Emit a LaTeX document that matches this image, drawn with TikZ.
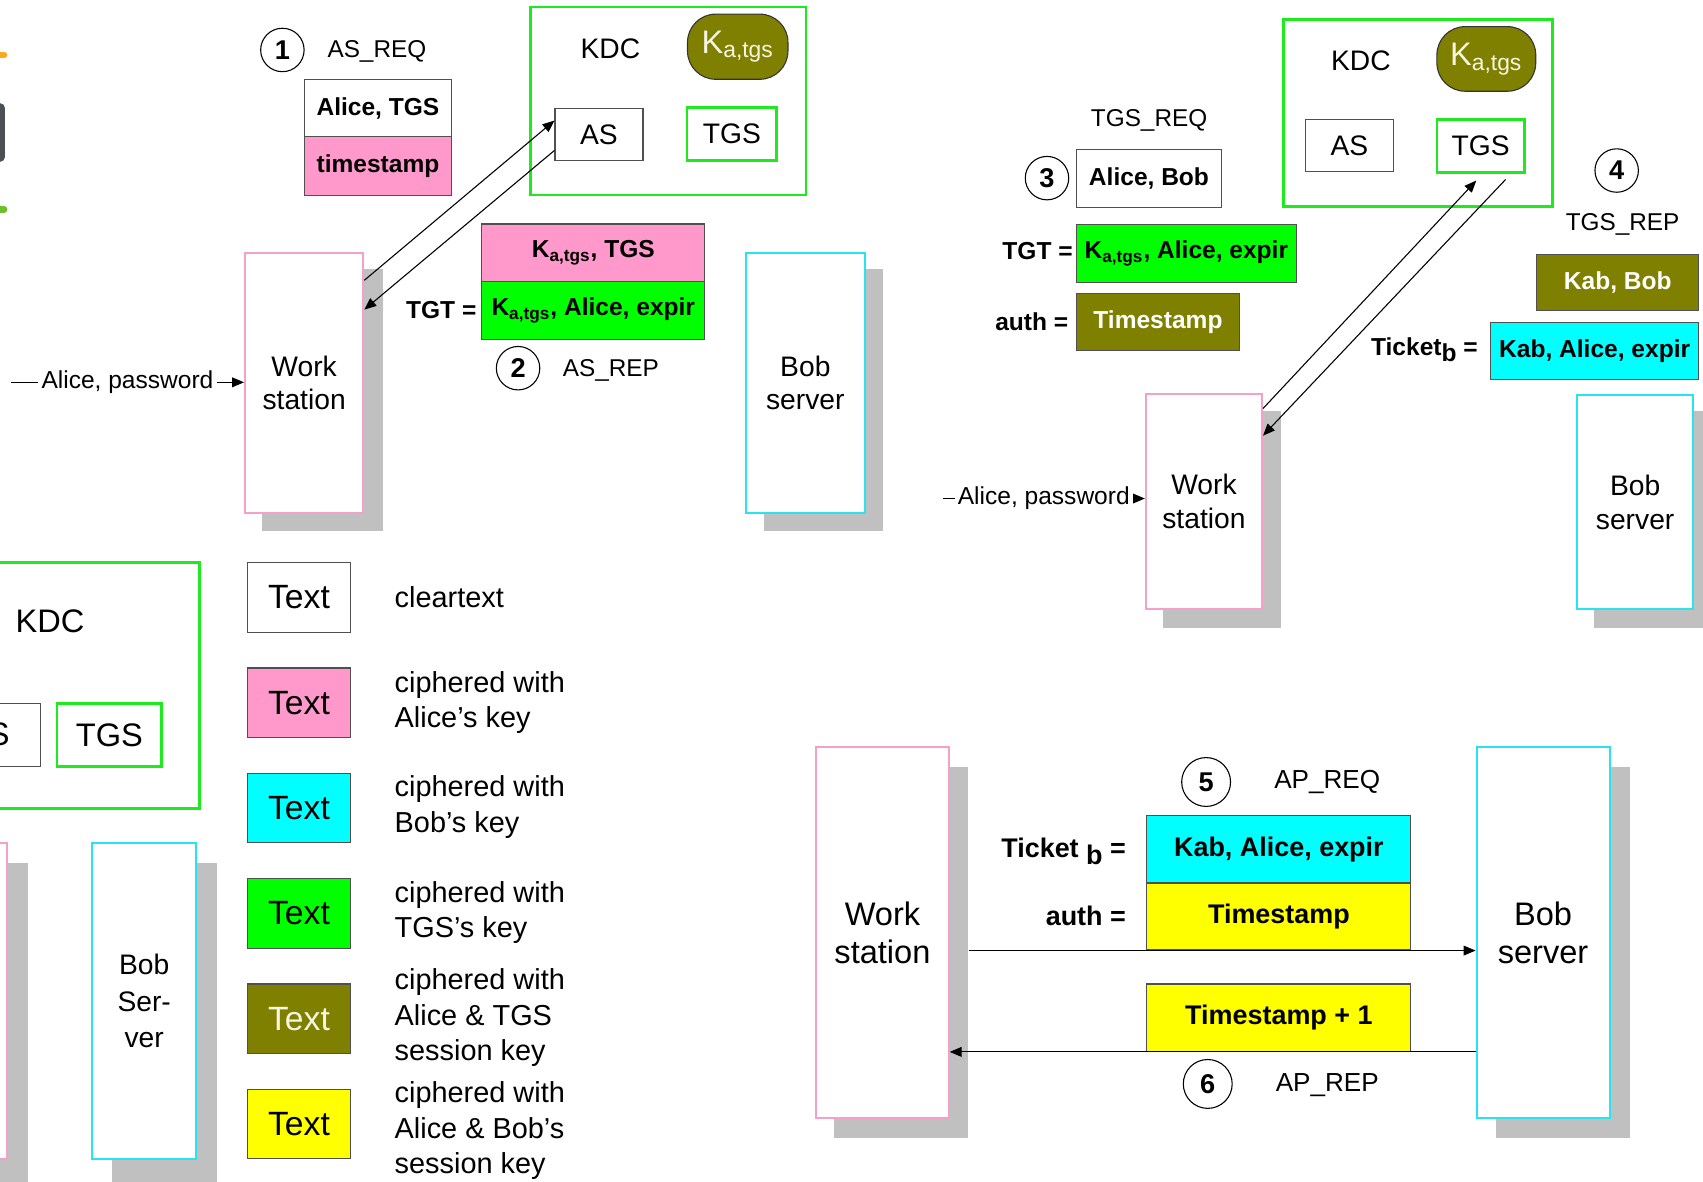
\documentclass[tikz,border=0pt]{standalone}
\usepackage{fontspec}
\setmainfont{Liberation Sans}
\usetikzlibrary{arrows.meta,calc}
\definecolor{pinkf}{RGB}{255,153,204}
\definecolor{pinkb}{RGB}{245,160,200}
\definecolor{greenf}{RGB}{0,255,0}
\definecolor{greenb}{RGB}{30,235,30}
\definecolor{cyanf}{RGB}{0,255,255}
\definecolor{cyanb}{RGB}{40,228,240}
\definecolor{olivef}{RGB}{128,128,0}
\definecolor{yellowf}{RGB}{255,255,0}
\definecolor{shadowc}{RGB}{192,192,192}
\definecolor{edgec}{RGB}{80,80,80}
\definecolor{keytxt}{RGB}{245,245,228}
\definecolor{orangec}{RGB}{250,170,30}
\definecolor{barc}{RGB}{75,80,85}
\definecolor{limec}{RGB}{110,190,40}
\newcommand{\fz}[2]{\fontsize{#1}{#2}\selectfont}
\begin{document}
\begin{tikzpicture}[x=0.5pt,y=-0.5pt,
  rectat/.style n args={4}{minimum width={((#3)-(#1))*0.5pt}, minimum height={((#4)-(#2))*0.5pt},
     at={({((#1)+(#3))/2},{((#2)+(#4))/2})}},
  shadowbox/.style={fill=shadowc, draw=none, inner sep=0pt},
  wsbox/.style={draw=pinkb, line width=0.9pt, fill=white, inner sep=0pt, align=center},
  bobbox/.style={draw=cyanb, line width=0.9pt, fill=white, inner sep=0pt, align=center},
  kdcbox/.style={draw=greenb, line width=1.25pt, inner sep=0pt},
  plainbox/.style={draw=edgec, line width=0.5pt, fill=white, inner sep=0pt},
  tgsbox/.style={draw=greenb, line width=1.25pt, fill=white, inner sep=0pt},
  keyblob/.style={draw=black!80, line width=0.5pt, fill=olivef, rounded corners=13pt, inner sep=0pt, text=keytxt, font=\fz{15}{17}},
  msg/.style={draw=edgec, line width=0.5pt, inner sep=0pt, font=\bfseries\fz{11.3}{13}},
  msgb/.style={draw=edgec, line width=0.5pt, inner sep=0pt, font=\bfseries\fz{12.4}{14}},
  lbl/.style={inner sep=0pt, font=\bfseries\fz{11.3}{13}},
  lblb/.style={inner sep=0pt, font=\bfseries\fz{12.4}{14}},
  steplbl/.style={inner sep=0pt, font=\fz{11.2}{13}},
  numc/.style={circle, draw=black, line width=0.5pt, minimum size=20pt, inner sep=0pt, font=\bfseries\fz{12.5}{14}},
  legbox/.style={draw=edgec, line width=0.5pt, inner sep=0pt, font=\fz{15.5}{17}},
  legtxt/.style={inner sep=0pt, anchor=west, align=left, font=\fz{13.3}{16.2}},
  pwlbl/.style={fill=white, inner sep=1.5pt, font=\fz{11.3}{13}},
  arr/.style={line width=0.5pt, -{Triangle[length=5.5pt,width=4.5pt]}}
]
\useasboundingbox (0,0) rectangle (1568,1088);
\clip (0,0) rectangle (1568,1088);

% cropped marks at the left edge
\draw[orangec, line width=3pt, line cap=round] (-5,50.6) -- (3.8,50.6);
\draw[barc, line width=4.5pt, line cap=round] (0,99.5) -- (0,144.5);
\draw[limec, line width=3pt, line cap=round] (-5,192.7) -- (3.8,192.7);

% ================= Panel top-left (AS exchange)
\node[numc] (c1) at (260,46) {1};
\node[steplbl] (asreq) at (347,47.5) {AS\_REQ};
\node[msg, fill=white, rectat={280}{73}{416}{126}] (alicetgs) {Alice, TGS};
\node[msg, fill=pinkf, rectat={280}{126}{416}{180}] (tstamp1) {timestamp};

\node[kdcbox, rectat={488.5}{6.5}{742}{179.5}] (kdc1) {};
\node[inner sep=0pt, font=\fz{13}{15}] (kdc1t) at (562,44.5) {KDC};
\node[keyblob, rectat={633}{13}{725.5}{73}] (key1) {K\textsubscript{a,tgs}};
\node[plainbox, font=\fz{13}{15}, rectat={511}{99.7}{592}{148}] (as1) {AS};
\node[tgsbox, font=\fz{13}{15}, rectat={632.6}{98.8}{715}{148}] (tgs1) {TGS};

\node[shadowbox, rectat={241.5}{248}{352.3}{489}] (ws1sh) {};
\node[wsbox, font=\fz{13}{15.6}, rectat={225.6}{233}{334.5}{472}] (ws1) {Work\\station};
\node[shadowbox, rectat={703}{248}{813}{489}] (bob1sh) {};
\node[bobbox, font=\fz{13}{15.6}, rectat={687}{233}{796}{472}] (bob1) {Bob\\server};

\node[msg, fill=pinkf, rectat={443.5}{206.2}{649}{259.4}] (ka1) {K\textsubscript{a,tgs}, TGS};
\node[msg, fill=greenf, rectat={443.5}{259.4}{649}{312.4}] (tgt1) {K\textsubscript{a,tgs}, Alice, expir};
\node[lbl, anchor=east] (tgt1l) at (439,285.5) {TGT =};
\node[numc] (c2) at (477,339) {2};
\node[steplbl] (asrep) at (562.5,341) {AS\_REP};

\coordinate (pw1) at (10,352);
\draw[arr] (pw1) -- node[pwlbl] {Alice, password} (pw1 -| ws1.west);
\draw[arr] ($(ws1.north east)+(0,26)$) -- ($(as1.north west)+(0,11.8)$);
\draw[arr] ($(as1.north west)+(0,39.3)$) -- ($(ws1.north east)+(0,53)$);

% ================= Panel top-right (TGS exchange)
\node[kdcbox, rectat={1182}{18}{1429.6}{190}] (kdc2) {};
\node[inner sep=0pt, font=\fz{13}{15}] (kdc2t) at (1253,55.5) {KDC};
\node[keyblob, rectat={1323}{24.5}{1414}{84}] (key2) {K\textsubscript{a,tgs}};
\node[plainbox, font=\fz{13}{15}, rectat={1202}{110}{1283}{158}] (as2) {AS};
\node[tgsbox, font=\fz{13}{15}, rectat={1323}{110}{1403.5}{159}] (tgs2) {TGS};

\node[steplbl] (tgsreq) at (1058,111) {TGS\_REQ};
\node[numc] (c3) at (964,164) {3};
\node[msg, fill=white, rectat={991.3}{138}{1124.5}{191}] (alicebob) {Alice, Bob};
\node[msg, fill=greenf, rectat={991.3}{207}{1193.3}{260}] (tgt2) {K\textsubscript{a,tgs}, Alice, expir};
\node[lbl, anchor=east] (tgt2l) at (988,231) {TGT =};
\node[msg, fill=olivef, text=white, rectat={991.3}{270}{1141}{323}] (auth2) {Timestamp};
\node[lbl, anchor=east] (auth2l) at (984,296) {auth =};

\node[numc] (c4) at (1488.5,157) {4};
\node[steplbl] (tgsrep) at (1494,206.5) {TGS\_REP};
\node[msg, fill=olivef, text=white, rectat={1415}{234}{1564}{286}] (kabbob) {Kab, Bob};
\node[msg, fill=cyanf, rectat={1372.5}{297}{1564}{349.3}] (tkb2) {Kab, Alice, expir};
\node[lbl, anchor=east] (tkb2l) at (1361,322) {Ticket\raisebox{-3pt}{b} =};

\node[shadowbox, rectat={1071}{378}{1179}{578}] (ws2sh) {};
\node[wsbox, font=\fz{13}{15.6}, rectat={1055}{363}{1162}{561}] (ws2) {Work\\station};
\node[shadowbox, rectat={1468}{378}{1576}{578}] (bob2sh) {};
\node[bobbox, font=\fz{13}{15.6}, rectat={1452}{363.7}{1559}{561}] (bob2) {Bob\\server};

\coordinate (pw2) at (868,459);
\draw[arr] (pw2) -- node[pwlbl] {Alice, password} (pw2 -| ws2.west);
\draw[arr] ($(ws2.north east)+(0,14)$) -- ($(tgs2.south)+(-4,6)$);
\draw[arr] ($(tgs2.south)+(23,5)$) -- ($(ws2.north east)+(0,39)$);

% ================= Panel bottom-left (overview, cropped)
\node[kdcbox, rectat={-20}{518}{183.5}{744.5}] (kdc3) {};
\node[inner sep=0pt, font=\fz{15}{17}] (kdc3t) at (46,572) {KDC};
\node[plainbox, font=\fz{15}{17}, rectat={-59.4}{647.5}{37}{705.5}] (as3) {AS};
\node[tgsbox, font=\fz{15}{17}, rectat={52.6}{647.5}{149}{706}] (tgs3) {TGS};
\node[shadowbox, rectat={-84}{795}{25.6}{1100}] (ws3sh) {};
\node[wsbox, rectat={-100}{776.5}{6.5}{1067}] (ws3) {};
\node[shadowbox, rectat={103}{795}{200}{1100}] (bob3sh) {};
\node[bobbox, font=\fz{13}{16.7}, rectat={85}{776.5}{180.5}{1067}] (bob3) {Bob\\Ser-\\ver};

% legend
\node[legbox, fill=white, rectat={227.7}{518}{322.8}{582}] (leg1) {Text};
\node[legbox, fill=pinkf, rectat={227.7}{615}{322.8}{679}] (leg2) {Text};
\node[legbox, fill=cyanf, rectat={227.7}{712}{322.8}{776}] (leg3) {Text};
\node[legbox, fill=greenf, rectat={227.7}{809}{322.8}{873}] (leg4) {Text};
\node[legbox, fill=olivef, text=keytxt, rectat={227.7}{906}{322.8}{970}] (leg5) {Text};
\node[legbox, fill=yellowf, rectat={227.7}{1003}{322.8}{1067}] (leg6) {Text};
\node[legtxt] (d1) at (363,550) {cleartext};
\node[legtxt] (d2) at (363,647) {ciphered with\\Alice’s key};
\node[legtxt] (d3) at (363,743) {ciphered with\\Bob’s key};
\node[legtxt] (d4) at (363,840) {ciphered with\\TGS’s key};
\node[legtxt] (d5) at (363,937) {ciphered with\\Alice \& TGS\\session key};
\node[legtxt] (d6) at (363,1041) {ciphered with\\Alice \& Bob’s\\session key};

% ================= Panel bottom-right (AP exchange)
\node[shadowbox, rectat={768}{706}{891.5}{1048}] (ws4sh) {};
\node[wsbox, font=\fz{15}{17.5}, rectat={751.5}{688}{873.5}{1029}] (ws4) {Work\\station};
\node[shadowbox, rectat={1377}{706}{1501}{1048}] (bob4sh) {};
\node[bobbox, font=\fz{15}{17.5}, rectat={1359.5}{688}{1482}{1029}] (bob4) {Bob\\server};

\node[numc, minimum size=22.5pt] (c5) at (1110.5,720) {5};
\node[inner sep=0pt, font=\fz{12}{14}] (apreq) at (1222,720) {AP\_REQ};
\node[msgb, fill=cyanf, rectat={1056}{751}{1299}{813}] (tkb4) {Kab, Alice, expir};
\node[msgb, fill=yellowf, rectat={1056}{813}{1299}{874.7}] (ts4) {Timestamp};
\node[lblb, anchor=east] (tkb4l) at (1037,784) {Ticket \raisebox{-3pt}{b} =};
\node[lblb, anchor=east] (ts4l) at (1037,843) {auth =};
\node[msgb, fill=yellowf, rectat={1056}{906}{1299}{968}] (ts41) {Timestamp + 1};
\node[numc, minimum size=22.5pt] (c6) at (1112,998) {6};
\node[inner sep=0pt, font=\fz{12}{14}] (aprep) at (1222,999) {AP\_REP};

\draw[arr] (ws4sh.east |- ts4.south) -- (bob4.west |- ts4.south);
\draw[arr] (bob4.west |- ts41.south) -- (ws4.east |- ts41.south);
\end{tikzpicture}
\end{document}
